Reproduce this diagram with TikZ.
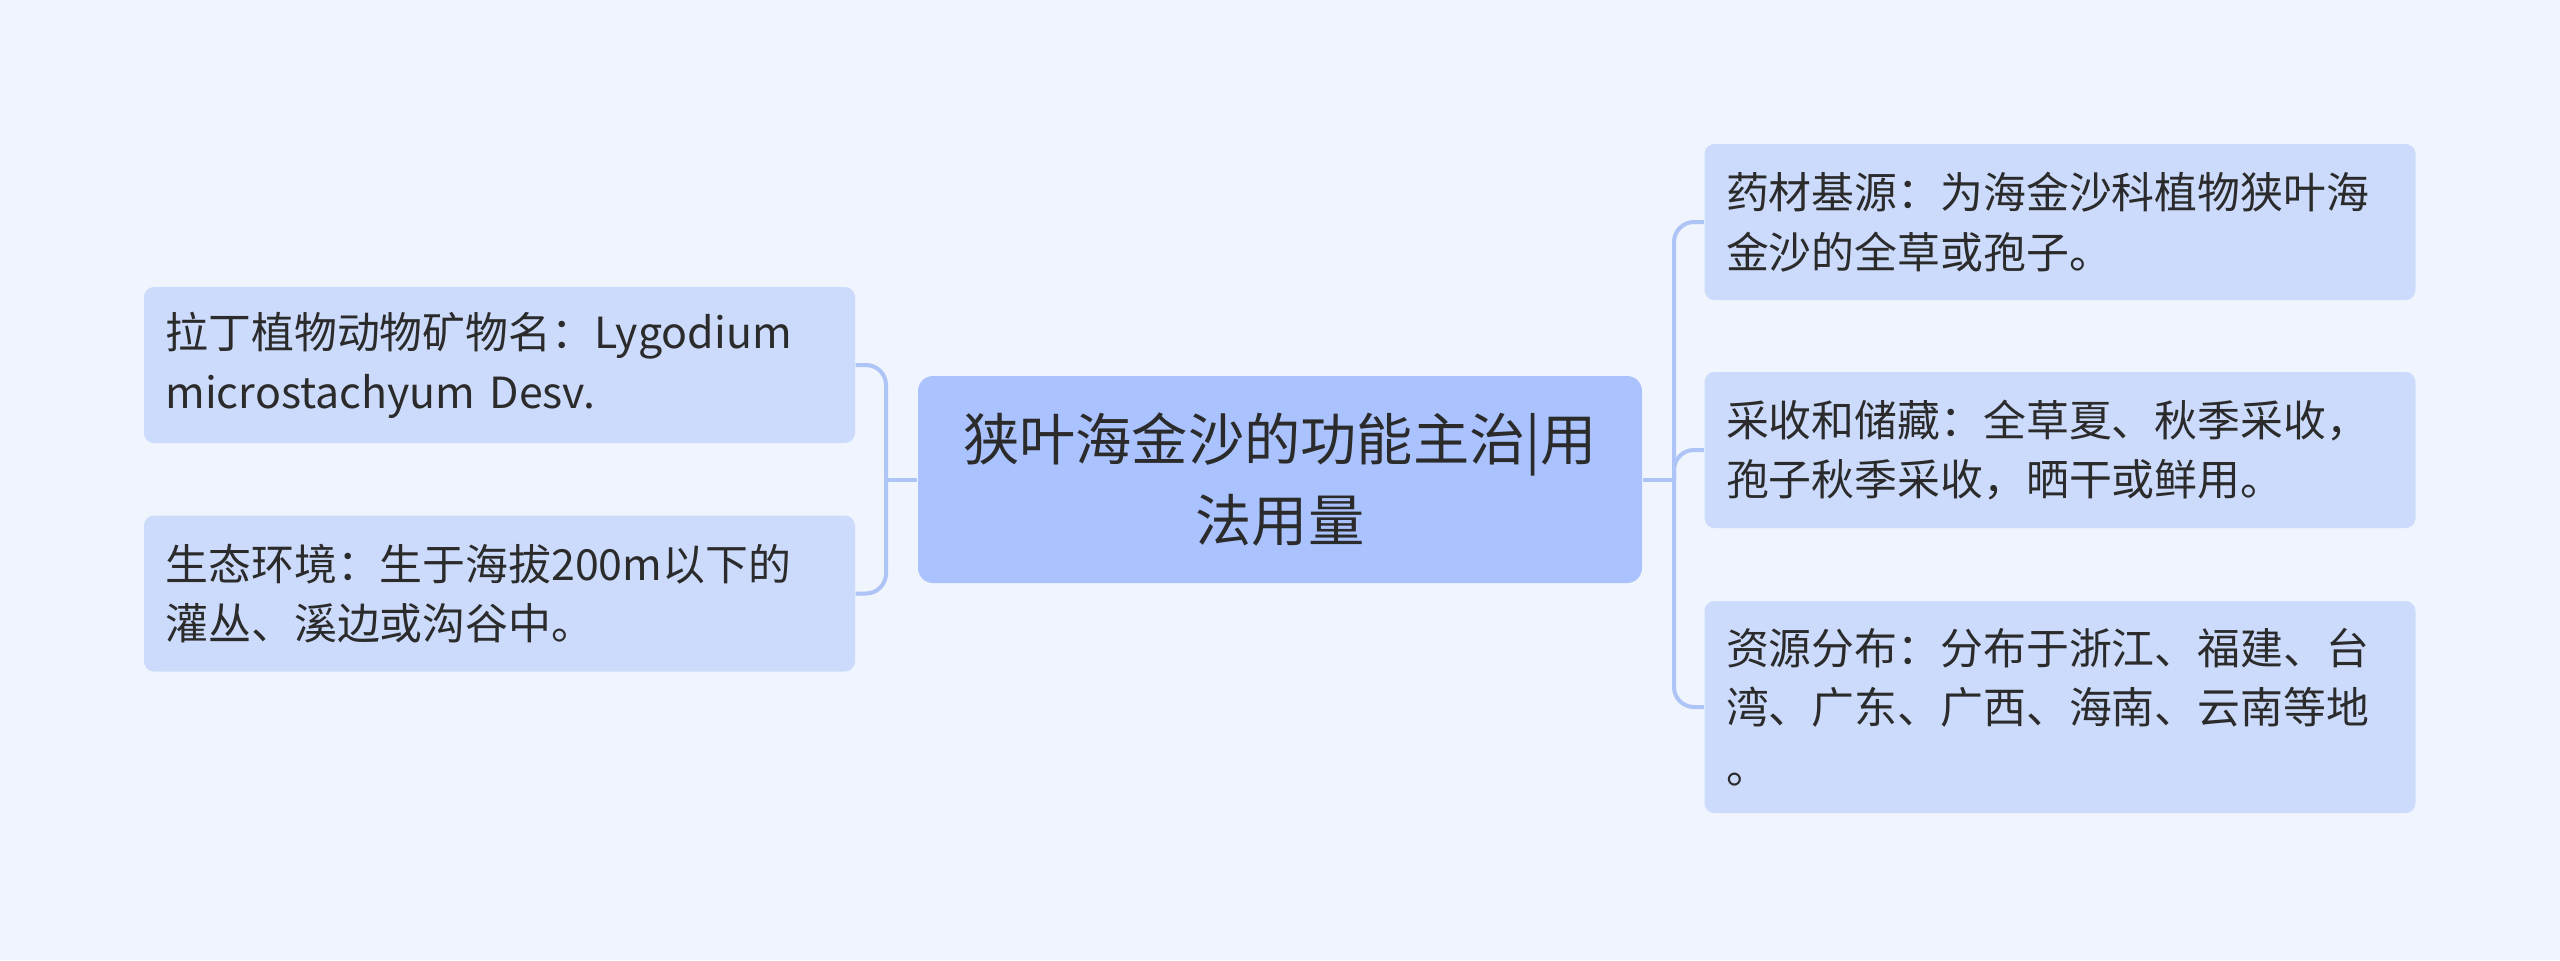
\documentclass[tikz,border=0pt]{standalone}
\usepackage{fontspec}
\usepackage{xcolor}
\newfontfamily\cjk{Noto Sans CJK SC}
\definecolor{BgBlue}  {HTML}{EFF4FD}
\definecolor{LeafFill}{HTML}{CCDBFC}
\definecolor{MainFill}{HTML}{AAC2FD}
\definecolor{LinkBlue}{HTML}{AEC4F6}
\definecolor{InkGray} {HTML}{2B2B2B}
\tikzset{
  mainbox/.style={
    fill=MainFill, rounded corners=1.5mm,
    minimum width=7.24cm, minimum height=2.07cm,
    align=center, inner sep=0pt, text=InkGray,
    font=\cjk\fontsize{16}{22.8}\selectfont,
  },
  leafbox/.style={
    fill=LeafFill, rounded corners=1mm,
    text width=6.68cm, inner xsep=2.15mm, inner ysep=0pt,
    minimum height=1.56cm, align=left, text=InkGray,
    font=\cjk\fontsize{12.2}{17}\selectfont,
  },
  link/.style={
    draw=LinkBlue, line width=0.04cm,
  },
  branch/.style={
    link, rounded corners=0.2cm,
  },
}

\begin{document}
\begin{tikzpicture}

% ── Canvas ────────────────────────────────────────────────────────────────
\useasboundingbox (0,0) rectangle (25.6,-9.6);
\fill[BgBlue] (0,0) rectangle (25.6,-9.6);

% ── Nodes ─────────────────────────────────────────────────────────────────
% Centre topic at x=12.8, left leaves at x=5.0, right leaves at x=20.6
\node[mainbox] (MAIN) at (12.80,-4.795) {狭叶海金沙的功能主治|用\\法用量};

\node[leafbox] (L1) at ( 4.995,-3.650) {拉丁植物动物矿物名：Lygodium\\microstachyum Desv.};
\node[leafbox] (L2) at ( 4.995,-5.935) {生态环境：生于海拔200m以下的\\灌丛、溪边或沟谷中。};

\node[leafbox] (R1) at (20.600,-2.220) {药材基源：为海金沙科植物狭叶海\\金沙的全草或孢子。};
\node[leafbox] (R2) at (20.600,-4.500) {采收和储藏：全草夏、秋季采收，\\孢子秋季采收，晒干或鲜用。};
\node[leafbox, minimum height=2.12cm]
               (R3) at (20.600,-7.070) {资源分布：分布于浙江、福建、台\\湾、广东、广西、海南、云南等地\\。};

% ── Connectors ────────────────────────────────────────────────────────────
% left side: short stub from MAIN, then a bracket to both leaves
\coordinate (LFORK) at (8.86,-4.795);
\draw[link] (MAIN.west) -- (LFORK);
\draw[branch] (LFORK) |- (L1.east);
\draw[branch] (LFORK) |- (L2.east);

% right side: trunk at x=16.74 feeding three leaves
\coordinate (RFORK) at (16.74,-4.795);
\draw[link] (MAIN.east) -- (RFORK);
\draw[branch] (RFORK) |- (R1.west);
\draw[branch] (RFORK) |- (R2.west);
\draw[branch] (RFORK) |- (R3.west);

\end{tikzpicture}
\end{document}
